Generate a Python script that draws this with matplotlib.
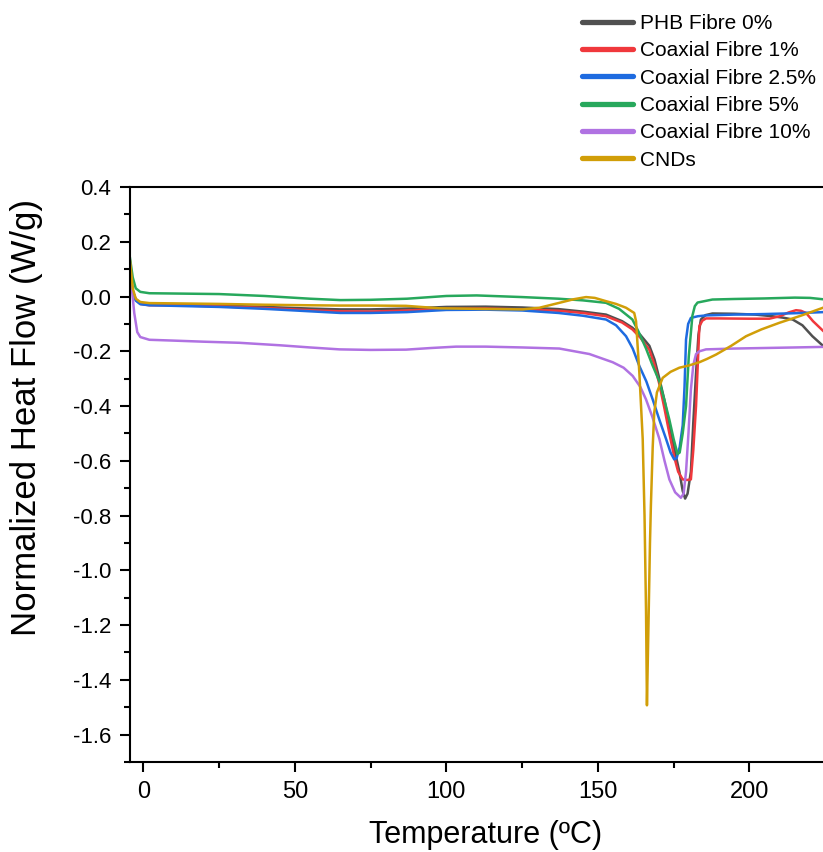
import matplotlib
matplotlib.use("Agg")
import matplotlib.pyplot as plt
from matplotlib.ticker import MultipleLocator

plt.rcParams['font.family'] = ['Liberation Sans', 'DejaVu Sans']

labels = ["PHB Fibre 0%", "Coaxial Fibre 1%", "Coaxial Fibre 2.5%",
          "Coaxial Fibre 5%", "Coaxial Fibre 10%", "CNDs"]
colors = ["#505050", "#f0383c", "#1e6be0", "#27a85c", "#b072e2", "#d19e08"]

t_phb = [-4.4, -3.5, -2.5, -1, 2, 10, 25, 40, 55, 65, 75, 87, 100, 113, 125, 137, 145,
         152.7, 158, 161.4, 164, 167, 168.7, 170.3, 172, 173.6, 175.3, 176.9, 178, 178.8,
         179.6, 180.7, 181.5, 182.4, 183.2, 184, 185.5, 187.8, 195, 202, 207.6, 211,
         214.3, 217.5, 220.8, 224.3]
y_phb = [0.10, 0.02, -0.01, -0.025, -0.03, -0.03, -0.033, -0.038, -0.044, -0.047, -0.047,
         -0.044, -0.038, -0.037, -0.040, -0.046, -0.055, -0.066, -0.09, -0.114, -0.14,
         -0.18, -0.23, -0.30, -0.38, -0.47, -0.56, -0.64, -0.71, -0.738, -0.72, -0.64,
         -0.46, -0.28, -0.14, -0.084, -0.068, -0.062, -0.063, -0.066, -0.072, -0.077,
         -0.084, -0.105, -0.145, -0.18]

t_c1 = [-4.4, -3.5, -2.5, -1, 2, 10, 25, 40, 55, 65, 75, 87, 100, 113, 125, 137, 145,
        152.7, 158, 161.4, 164, 167, 168.7, 170.3, 172, 173.6, 175.3, 176.5, 178, 179.5,
        180.7, 181.5, 182.4, 183.5, 184.5, 185.7, 190, 200, 206.6, 210, 213, 215.4, 217,
        218.7, 221, 224.3]
y_c1 = [0.10, 0.02, -0.012, -0.027, -0.032, -0.032, -0.036, -0.042, -0.05, -0.054, -0.055,
        -0.051, -0.045, -0.044, -0.047, -0.052, -0.06, -0.072, -0.095, -0.12, -0.15,
        -0.195, -0.25, -0.32, -0.41, -0.50, -0.59, -0.64, -0.668, -0.67, -0.668, -0.56,
        -0.40, -0.108, -0.088, -0.08, -0.08, -0.081, -0.081, -0.072, -0.058, -0.05,
        -0.052, -0.06, -0.09, -0.125]

t_c25 = [-4.4, -3.5, -2.5, -1, 2, 10, 25, 40, 55, 65, 75, 87, 100, 113, 125, 137, 145,
         152.7, 156, 159.3, 161.5, 163.7, 166, 168.1, 170.3, 172.5, 174, 175.2, 176, 177,
         178, 178.6, 179.1, 179.8, 180.7, 183, 185.7, 195, 205, 215, 224.3]
y_c25 = [0.09, 0.015, -0.015, -0.028, -0.032, -0.034, -0.038, -0.045, -0.054, -0.06, -0.06,
         -0.057, -0.049, -0.048, -0.051, -0.06, -0.07, -0.084, -0.105, -0.145, -0.19,
         -0.254, -0.31, -0.376, -0.45, -0.52, -0.57, -0.595, -0.59, -0.55, -0.47, -0.33,
         -0.157, -0.10, -0.078, -0.072, -0.069, -0.066, -0.064, -0.061, -0.057]

t_c5 = [-4.4, -3.5, -2.5, -1, 2, 10, 25, 40, 55, 65, 75, 87, 100, 110, 125, 137, 145,
        152.7, 157, 161.4, 163.5, 165.9, 168, 170.3, 172, 173.6, 175, 176.3, 177, 178,
        179.1, 180, 181.2, 182, 182.9, 187.8, 195, 205, 215, 220, 224.3]
y_c5 = [0.14, 0.07, 0.03, 0.017, 0.012, 0.011, 0.009, 0.002, -0.008, -0.013, -0.012,
        -0.008, 0.002, 0.004, -0.002, -0.008, -0.014, -0.023, -0.045, -0.084, -0.13,
        -0.19, -0.25, -0.31, -0.38, -0.45, -0.52, -0.575, -0.57, -0.50, -0.40, -0.22,
        -0.07, -0.035, -0.022, -0.011, -0.009, -0.007, -0.004, -0.005, -0.01]

t_c10 = [-4.4, -3.8, -3, -2, -1, 2, 10, 20, 31.7, 45, 55, 64.7, 75, 86.7, 95, 103.2, 113,
         125, 137.3, 147.2, 154.9, 158.5, 161.5, 164, 165.9, 168, 170.3, 172, 173.6, 175.5,
         177.4, 178.3, 179.1, 179.9, 180.7, 181.5, 182.4, 183.5, 185.7, 195, 205, 215, 224.3]
y_c10 = [0.12, 0.03, -0.06, -0.13, -0.148, -0.158, -0.161, -0.165, -0.169, -0.178, -0.186,
         -0.193, -0.195, -0.194, -0.188, -0.183, -0.183, -0.186, -0.19, -0.21, -0.24,
         -0.26, -0.29, -0.33, -0.376, -0.44, -0.52, -0.60, -0.668, -0.715, -0.735, -0.72,
         -0.64, -0.50, -0.34, -0.25, -0.21, -0.20, -0.193, -0.19, -0.188, -0.186, -0.184]

t_cnd = [-4.4, -3.5, -2.5, -1, 2, 10, 25, 40, 55, 64.7, 75, 86.7, 97.7, 110, 125.2, 130.7,
         137.3, 142, 146.1, 149, 152.7, 156, 159.3, 162, 162.6, 163.7, 164.8, 165.4, 165.9,
         166.2, 166.7, 167.2, 167.5, 168.1, 168.6, 169.5, 171.4, 174, 176.9, 180, 183.5,
         186, 189, 194, 198.9, 204, 209.9, 217, 224.3]
y_cnd = [0.13, 0.03, -0.008, -0.02, -0.024, -0.025, -0.027, -0.03, -0.032, -0.033, -0.033,
         -0.034, -0.043, -0.045, -0.047, -0.041, -0.023, -0.01, -0.002, -0.005, -0.017,
         -0.027, -0.041, -0.06, -0.09, -0.28, -0.52, -0.8, -1.15, -1.493, -1.2, -0.9,
         -0.765, -0.55, -0.425, -0.35, -0.297, -0.275, -0.26, -0.252, -0.24, -0.228,
         -0.212, -0.18, -0.145, -0.12, -0.096, -0.07, -0.041]

series_t = [t_phb, t_c1, t_c25, t_c5, t_c10, t_cnd]
series_y = [y_phb, y_c1, y_c25, y_c5, y_c10, y_cnd]

fig = plt.figure(figsize=(8.23, 8.52), dpi=100)
ax = fig.add_axes([130 / 823, 90 / 852, 1 - 130 / 823, (762 - 187) / 852])

handles = []
for t, y, c, lab in zip(series_t, series_y, colors, labels):
    h, = ax.plot(t, y, color=c, lw=1.8, label=lab, solid_joinstyle='round')
    handles.append(h)

ax.set_xlim(-4.4, 224.3)
ax.set_ylim(-1.7, 0.4)
ax.xaxis.set_major_locator(MultipleLocator(50))
ax.xaxis.set_minor_locator(MultipleLocator(25))
ax.yaxis.set_minor_locator(MultipleLocator(0.1))
ax.set_yticks([0.4, 0.2, 0.0, -0.2, -0.4, -0.6, -0.8, -1.0, -1.2, -1.4, -1.6])
ax.set_yticklabels(["0.4", "0.2", "0.0", "-0.2", "-0.4", "-0.6", "-0.8", "-1.0",
                    "-1.2", "-1.4", "-1.6"])

ax.spines['right'].set_visible(False)
for s in ['left', 'bottom', 'top']:
    ax.spines[s].set_linewidth(1.5)
ax.tick_params(axis='both', which='major', direction='out', length=7.5, width=1.5)
ax.tick_params(axis='both', which='minor', direction='out', length=4.5, width=1.5)
ax.tick_params(axis='y', labelsize=16, pad=6)
ax.tick_params(axis='x', labelsize=17, pad=6)

ax.set_xlabel("Temperature (ºC)", fontsize=22)
ax.xaxis.set_label_coords((486 - 130) / 693, (762 - 820) / 575)
ax.set_ylabel("Normalized Heat Flow (W/g)", fontsize=25)
ax.yaxis.set_label_coords((43 - 130) / 693, (762 - 418) / 575)

fig.legend(handles=handles, labels=labels, loc='upper left',
           bbox_to_anchor=(582 / 823, 1 - 14 / 852), frameon=False,
           fontsize=15, handlelength=2.43, handletextpad=0.34, labelspacing=0.40,
           borderpad=0, borderaxespad=0)
for lh in fig.legends[0].get_lines():
    lh.set_linewidth(3.8)
    lh.set_solid_capstyle('round')

fig.savefig("out.png", dpi=100)
